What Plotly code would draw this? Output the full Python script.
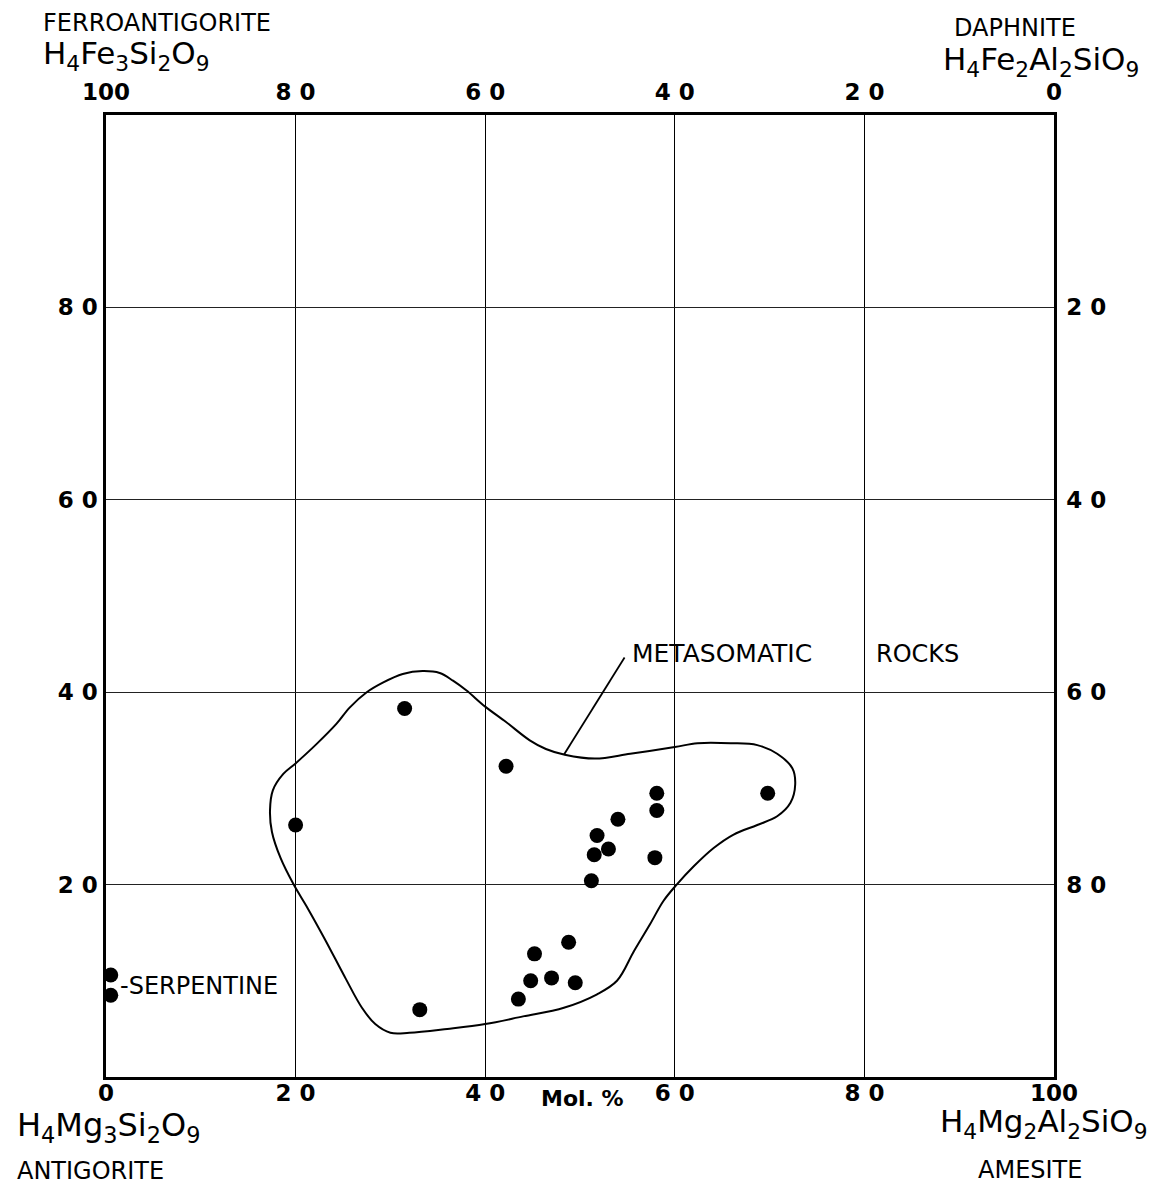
import plotly.graph_objects as go

# ---------------- data ----------------
tick_vals = [0, 20, 40, 60, 80, 100]
bottom_tick_text = ["0", "2 0", "4 0", "6 0", "8 0", "100"]
top_tick_text = ["100", "8 0", "6 0", "4 0", "2 0", "0"]
side_tick_vals = [20, 40, 60, 80]
left_tick_text = ["2 0", "4 0", "6 0", "8 0"]
right_tick_text = ["8 0", "6 0", "4 0", "2 0"]

# metasomatic rock analyses (amesite mol %, ferroan mol %)
rock_x = [31.5, 42.2, 20.0, 58.1, 58.1, 54.0, 51.8, 53.0, 51.5, 57.9, 51.2,
          69.8, 48.8, 45.2, 44.8, 47.0, 49.5, 43.5, 33.1]
rock_y = [38.3, 32.3, 26.2, 29.5, 27.7, 26.8, 25.1, 23.7, 23.1, 22.8, 20.4,
          29.5, 14.0, 12.8, 10.0, 10.3, 9.8, 8.1, 7.0]

# serpentine analyses
serp_x = [0.5, 0.5]
serp_y = [10.6, 8.5]

# envelope of metasomatic rocks
env_x = [33.4, 35.2, 36.6, 38.0, 40.0, 42.2, 44.7, 46.4, 48.4, 51.6,
         55.3, 60.0, 62.4, 65.9, 68.7, 70.8, 72.4, 72.7, 72.2, 70.8,
         68.7, 66.2, 64.1, 62.0, 60.2, 58.8, 57.4, 55.7, 53.9, 51.8,
         48.3, 44.0, 40.0, 36.0, 32.0, 30.0, 28.4, 27.0, 25.3, 23.1,
         21.3, 19.8, 18.4, 17.5, 17.3, 17.6, 18.7, 20.0, 22.2, 24.3,
         25.7, 27.5, 29.2, 31.3, 33.4]
env_y = [42.2, 42.0, 41.2, 40.2, 38.5, 36.9, 35.0, 34.1, 33.5, 33.1,
         33.6, 34.3, 34.7, 34.7, 34.5, 33.6, 32.1, 30.4, 28.5, 27.1,
         26.2, 25.2, 23.8, 21.9, 20.0, 18.3, 15.9, 13.1, 10.0, 8.6,
         7.2, 6.3, 5.5, 5.0, 4.6, 4.6, 5.5, 7.2, 10.2, 14.3,
         17.5, 20.0, 22.8, 25.5, 27.7, 29.8, 31.5, 32.6, 34.6, 36.7,
         38.4, 40.0, 41.0, 41.9, 42.2]

# leader line to the "METASOMATIC ROCKS" label
leader_x = [48.3, 54.7]
leader_y = [33.5, 43.6]

FONT = "DejaVu Sans"
NUMFONT = dict(family=FONT, size=23, color="black", weight="bold")

fig = go.Figure()

fig.add_trace(go.Scatter(
    x=env_x, y=env_y, mode="lines",
    line=dict(color="black", width=2, shape="spline", smoothing=1.0),
    hoverinfo="skip", showlegend=False))

fig.add_trace(go.Scatter(
    x=leader_x, y=leader_y, mode="lines",
    line=dict(color="black", width=1.8),
    hoverinfo="skip", showlegend=False))

fig.add_trace(go.Scatter(
    x=rock_x, y=rock_y, mode="markers",
    marker=dict(color="black", size=15, line=dict(width=0)),
    showlegend=False))

fig.add_trace(go.Scatter(
    x=serp_x, y=serp_y, mode="markers",
    marker=dict(color="black", size=15, line=dict(width=0)),
    cliponaxis=False, showlegend=False))

# invisible trace to carry the top / right axes
fig.add_trace(go.Scatter(
    x=[0, 100], y=[0, 100], xaxis="x2", yaxis="y2", mode="markers",
    marker=dict(opacity=0), hoverinfo="skip", showlegend=False))

axis_common = dict(range=[0, 100], showline=True, linecolor="black",
                   linewidth=2.5, zeroline=False, ticks="",
                   tickfont=NUMFONT, fixedrange=True, automargin=False)

# page body adds a small offset, so the figure is sized to fit the window
fig.update_layout(
    width=1163, height=1177,
    margin=dict(l=98, r=117, t=107, b=108),
    paper_bgcolor="white", plot_bgcolor="white",
    xaxis=dict(**axis_common, tickvals=tick_vals, ticktext=bottom_tick_text,
               showgrid=True, gridcolor="black", gridwidth=1.3,
               ticklabelstandoff=-6),
    yaxis=dict(**axis_common, tickvals=side_tick_vals,
               ticktext=left_tick_text, showgrid=True, gridcolor="#222",
               gridwidth=1, ticklabelstandoff=1),
    xaxis2=dict(**axis_common, overlaying="x", side="top", matches="x",
                tickvals=tick_vals, ticktext=top_tick_text, showgrid=False,
                ticklabelstandoff=3),
    yaxis2=dict(**axis_common, overlaying="y", side="right", matches="y",
                tickvals=side_tick_vals, ticktext=right_tick_text,
                showgrid=False, ticklabelstandoff=5),
)

def label(text, x, y, size, xanchor="left", yanchor="middle", weight="normal"):
    # x, y given in the chart's 0-100 units; paper coords = units / 100
    fig.add_annotation(text=text, x=x / 100, y=y / 100, xref="paper",
                       yref="paper", xanchor=xanchor, yanchor=yanchor,
                       showarrow=False,
                       font=dict(family=FONT, size=size, color="black",
                                 weight=weight))

label("FERROANTIGORITE", -6.9, 109.6, 24)
label("H<sub>4</sub>Fe<sub>3</sub>Si<sub>2</sub>O<sub>9</sub>", -6.9, 106.2, 31)
label("DAPHNITE", 89.2, 109.0, 24)
label("H<sub>4</sub>Fe<sub>2</sub>Al<sub>2</sub>SiO<sub>9</sub>", 88.1, 105.6, 31)
label("H<sub>4</sub>Mg<sub>3</sub>Si<sub>2</sub>O<sub>9</sub>", -9.6, -5.2, 32)
label("ANTIGORITE", -9.6, -9.8, 24)
label("H<sub>4</sub>Mg<sub>2</sub>Al<sub>2</sub>SiO<sub>9</sub>", 87.8, -4.8, 31)
label("AMESITE", 91.8, -9.7, 24)
label("Mol. %", 50.3, -2.2, 22, xanchor="center", weight="bold")
label("-SERPENTINE", 1.3, 9.5, 24)
label("METASOMATIC", 55.3, 44.0, 25)
label("ROCKS", 81.0, 44.0, 24)

fig.write_html("out.html")
